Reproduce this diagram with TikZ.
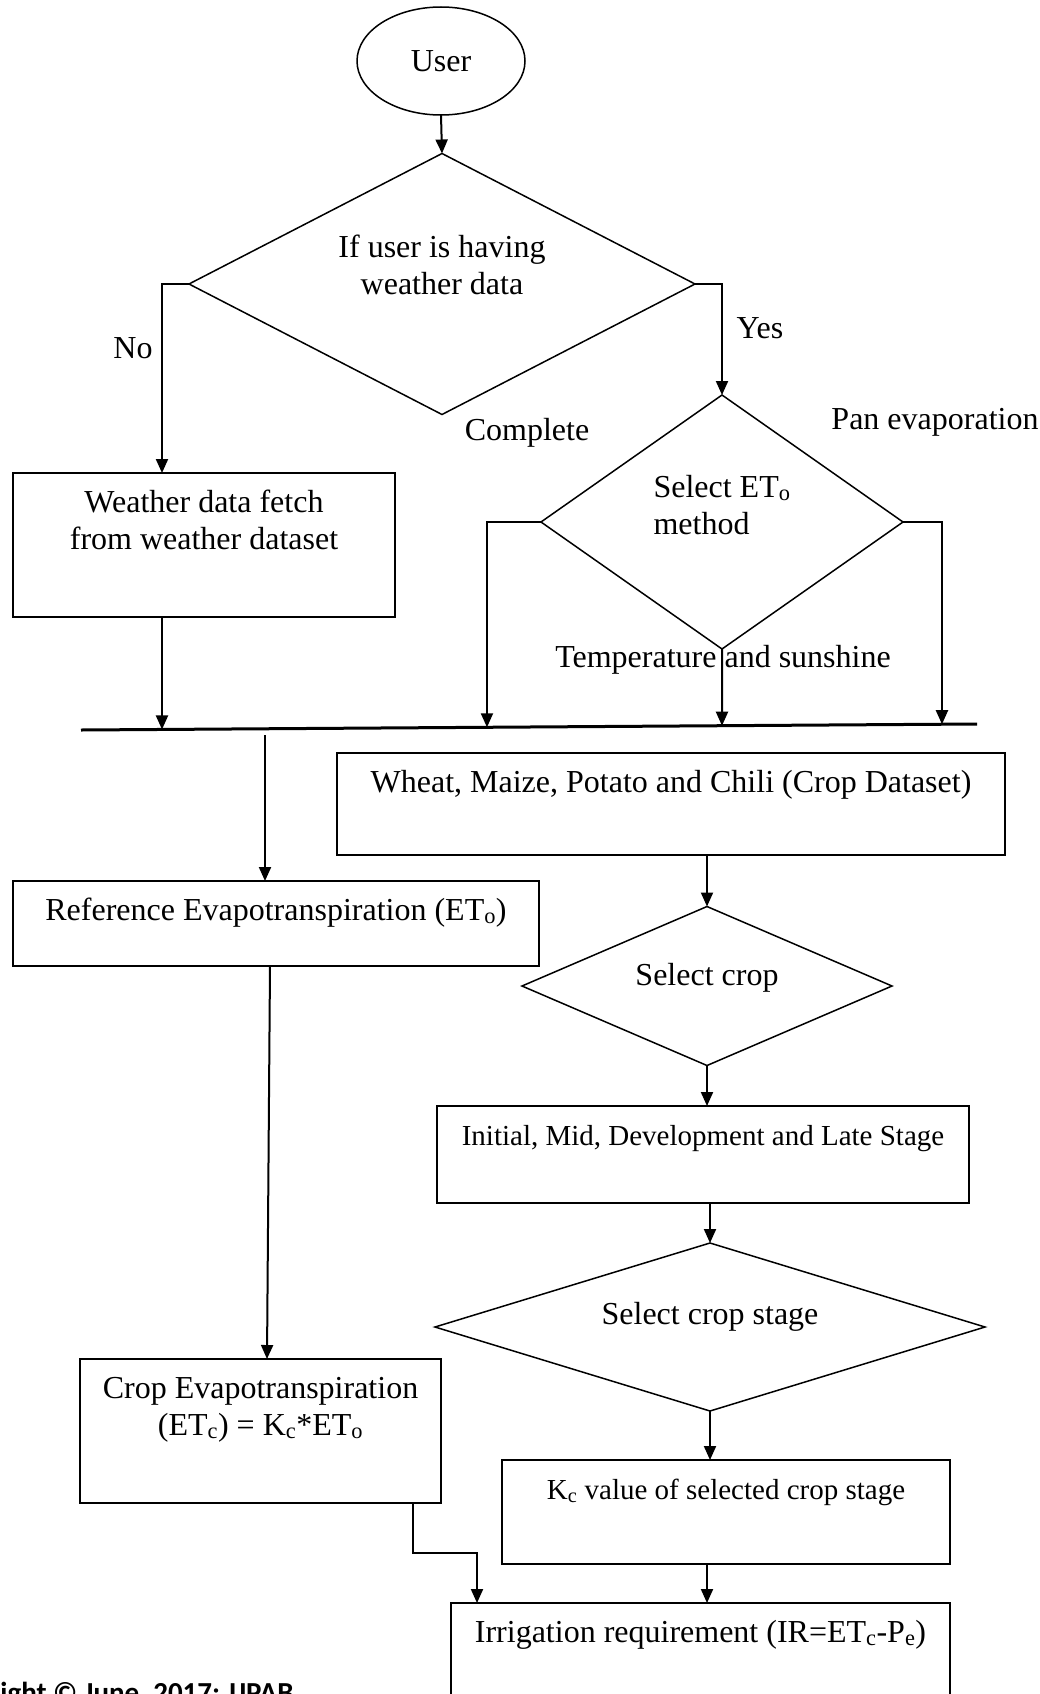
\documentclass[tikz,border=0pt]{standalone}
\usepackage{fontspec}
\setmainfont{Liberation Serif}
\newfontfamily\footfont{Carlito}
\usetikzlibrary{positioning,arrows.meta,shapes.geometric,calc}

\tikzset{
  procbox/.style={draw, line width=2pt, align=center, inner sep=0pt, outer sep=0pt, anchor=north, text height=39pt},
  decision/.style={draw, diamond, line width=1.5pt, align=center, inner sep=0pt, outer sep=0pt, text height=22pt},
  flow/.style={line width=2pt, -{Triangle[length=14pt,width=12pt]}},
  smalltext/.style={font=\fontsize{29}{34}\selectfont}
}

\begin{document}
\begin{tikzpicture}[x=1pt,y=-1pt,font=\fontsize{32}{37}\selectfont]
\useasboundingbox (0,0) rectangle (1040,1694);
\node[draw, ellipse, line width=1.5pt, minimum width=168pt, minimum height=108pt, inner sep=0pt, outer sep=0pt] (user) at (441,61) {User};
\node[decision, aspect=1.94, minimum width=506pt, minimum height=261pt, text height=59pt, text depth=39pt] (havedata) at (442,284) {If user is having\\weather data};
\node[decision, align=left, aspect=1.425, minimum width=362pt, minimum height=254pt, text height=59pt, text depth=35pt] (method) at (722,522) {Select ET\textsubscript{o}\\method};
\node[procbox, minimum width=382pt, text height=76pt, text depth=68pt] (wbox) at (204,473) {Weather data fetch\\from weather dataset};
\node[procbox, minimum width=668pt, text depth=63pt] (cropdata) at (671,753) {Wheat, Maize, Potato and Chili (Crop Dataset)};
\node[procbox, minimum width=526pt, text depth=46pt] (refbox) at (276,881) {Reference Evapotranspiration (ET\textsubscript{o})};
\node[decision, aspect=2.33, minimum width=370pt, minimum height=159pt, text depth=23pt] (selcrop) at (707,986) {Select crop};
\node[procbox, smalltext, minimum width=532pt, text depth=58pt] (stages) at (703,1106) {Initial, Mid, Development and Late Stage};
\node[decision, aspect=3.27, minimum width=550pt, minimum height=168pt, text depth=27pt] (selstage) at (710,1327) {Select crop stage};
\node[procbox, smalltext, minimum width=448pt, text depth=65pt] (kcbox) at (726,1460) {K\textsubscript{c} value of selected crop stage};
\node[procbox, minimum width=361pt, text height=76pt, text depth=68pt] (etcbox) at (260.5,1359) {Crop Evapotranspiration\\(ET\textsubscript{c}) = K\textsubscript{c}*ET\textsubscript{o}};
\node[procbox, minimum width=499pt, text depth=88pt] (irbox) at (700.5,1603) {Irrigation requirement (IR=ET\textsubscript{c}-P\textsubscript{e})};

\node (no) at (133,348) {No};
\node (yes) at (760,328) {Yes};
\node (complete) at (527,433) {Complete};
\node (pan) at (935,422) {Pan evaporation};
\node (tempsun) at (723,660) {Temperature and sunshine};

\coordinate (busL) at (81,730);
\coordinate (busR) at (977,724);
\draw[line width=3pt] (busL) -- (busR);
\coordinate (bin1) at ($(busL)!0.0904!(busR)$);
\coordinate (bin2) at ($(busL)!0.4531!(busR)$);
\coordinate (bin3) at ($(busL)!0.7154!(busR)$);
\coordinate (bin4) at ($(busL)!0.9609!(busR)$);
\coordinate (busout) at (265,735);
\coordinate (kcout) at ([xshift=-19pt]kcbox.south);

\draw[flow] (user.south) -- (havedata.north);
\draw[flow] (havedata.west) -- (havedata.west -| bin1) -- (bin1 |- wbox.north);
\draw[flow] (havedata.east) -| (method.north);
\draw[flow] (bin1 |- wbox.south) -- (bin1);
\draw[flow] (method.west) -- (method.west -| bin2) -- (bin2);
\draw[flow] (method.south) -- (bin3);
\draw[flow] (method.east) -- (method.east -| bin4) -- (bin4);
\draw[flow] (busout) -- (busout |- refbox.north);
\draw[flow] (selcrop.north |- cropdata.south) -- (selcrop.north);
\draw[flow] (selcrop.south) -- (selcrop.south |- stages.north);
\draw[flow] (selstage.north |- stages.south) -- (selstage.north);
\draw[flow] (selstage.south) -- (selstage.south |- kcbox.north);
\draw[flow] ([xshift=-6pt]refbox.south) -- ([xshift=6.5pt]etcbox.north);
\draw[flow] ([xshift=-28pt]etcbox.south east) -- ++(0,50) -| ([xshift=26pt]irbox.north west);
\draw[flow] (kcout) -- (kcout |- irbox.north);

\node[anchor=base east, font=\footfont\bfseries\fontsize{29}{34}\selectfont] (copyr) at (297,1702) {Copyright © June, 2017: IJPAB};
\end{tikzpicture}
\end{document}
